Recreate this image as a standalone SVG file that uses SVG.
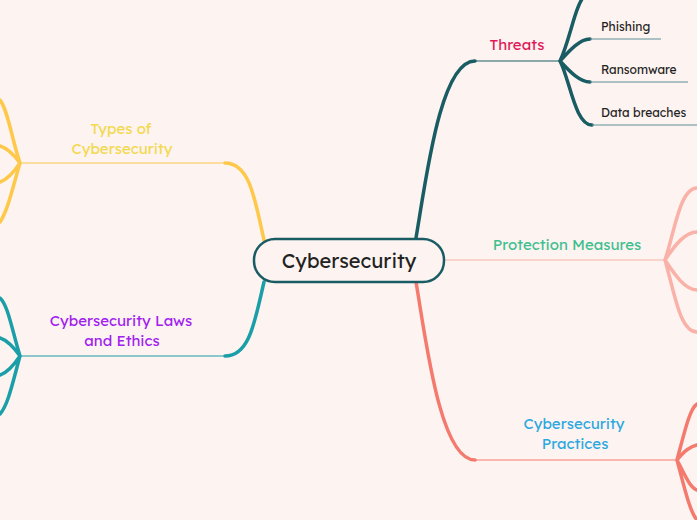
<svg xmlns="http://www.w3.org/2000/svg" width="697" height="520" viewBox="0 0 697 520">
<style>
.t{font-family:"Lexend","Inter","Liberation Sans",sans-serif}
.lbl{font-size:15px;text-anchor:middle}
.sub{font-size:12px;fill:#222}
.thick{fill:none;stroke-width:3.5;stroke-linecap:round}
.thin{fill:none;stroke-width:1.2}
</style>
<rect width="697" height="520" fill="#fdf3f0"/>
<g id="connectors">
<!-- Threats -->
<path class="thick" stroke="#1a5c63" d="M416,238 C426,180 440,61 475,61"/>
<path class="thin" stroke="#1a5c63" d="M475,61 H560"/>
<path class="thick" stroke="#1a5c63" d="M560,61 C570,40 575,5 585,-5 M560,61 C570,50 580,39 590,39 M560,61 C570,72 580,82 590,82 M560,61 C570,80 575,125 592,125"/>
<path class="thin" stroke="#5c9097" d="M590,39 H661 M590,82 H688 M592,125 H697"/>
<!-- Protection -->
<path class="thin" stroke="#f9b1a8" stroke-width="1.6" d="M444,260 H665"/>
<path class="thick" stroke="#f9b1a8" stroke-width="2.5" d="M665,260 C675,230 680,188 697,188 M665,260 C675,245 685,232 697,232 M665,260 C675,275 685,290 697,290 M665,260 C675,295 680,332 697,332"/>
<!-- Practices -->
<path class="thick" stroke="#f47a6e" d="M416,282 C426,340 440,460 475,460"/>
<path class="thin" stroke="#f47a6e" d="M475,460 H677"/>
<path class="thick" stroke="#f47a6e" d="M677,460 C685,430 690,408 697,404 M677,460 C685,450 690,447 697,445 M677,460 C685,475 690,488 697,490 M677,460 C685,490 690,512 697,520"/>
<!-- Types -->
<path class="thick" stroke="#fec84a" d="M264,240 C255,200 250,163 225,163"/>
<path class="thin" stroke="#fec84a" d="M225,163 H20"/>
<path class="thick" stroke="#fec84a" d="M20,163 C12,140 8,110 0,100 M20,163 C12,152 6,148 0,146 M20,163 C12,175 6,180 0,182 M20,163 C12,190 8,210 0,222"/>
<!-- Laws -->
<path class="thick" stroke="#1a9ea8" d="M264,282 C255,320 250,356 225,356"/>
<path class="thin" stroke="#1a9ea8" d="M225,356 H20"/>
<path class="thick" stroke="#1a9ea8" d="M20,356 C12,330 8,305 0,298 M20,356 C12,345 6,340 0,338 M20,356 C12,368 6,373 0,375 M20,356 C12,385 8,405 0,414"/>
</g>
<g id="center">
<rect x="254" y="239" width="190" height="43" rx="21" fill="#fdf3f0" stroke="#1a5c63" stroke-width="2.5"/>
<text class="t" x="349" y="268" font-size="20" text-anchor="middle" fill="#222">Cybersecurity</text>
</g>
<g id="threats"><text class="t lbl" x="517" y="50" fill="#e0195a">Threats</text></g>
<g id="phishing"><text class="t sub" x="601" y="31">Phishing</text></g>
<g id="ransomware"><text class="t sub" x="601" y="74">Ransomware</text></g>
<g id="breaches"><text class="t sub" x="601" y="117">Data breaches</text></g>
<g id="protection"><text class="t lbl" x="567" y="250" fill="#3dbf8f">Protection Measures</text></g>
<g id="practices"><text class="t lbl" fill="#2aa8e0"><tspan x="574" y="429">Cybersecurity</tspan><tspan x="575" y="449">Practices</tspan></text></g>
<g id="types"><text class="t lbl" fill="#f2d94e"><tspan x="121" y="134">Types of</tspan><tspan x="122" y="154">Cybersecurity</tspan></text></g>
<g id="laws"><text class="t lbl" fill="#a020f0"><tspan x="121" y="326">Cybersecurity Laws</tspan><tspan x="122" y="346">and Ethics</tspan></text></g>
</svg>
